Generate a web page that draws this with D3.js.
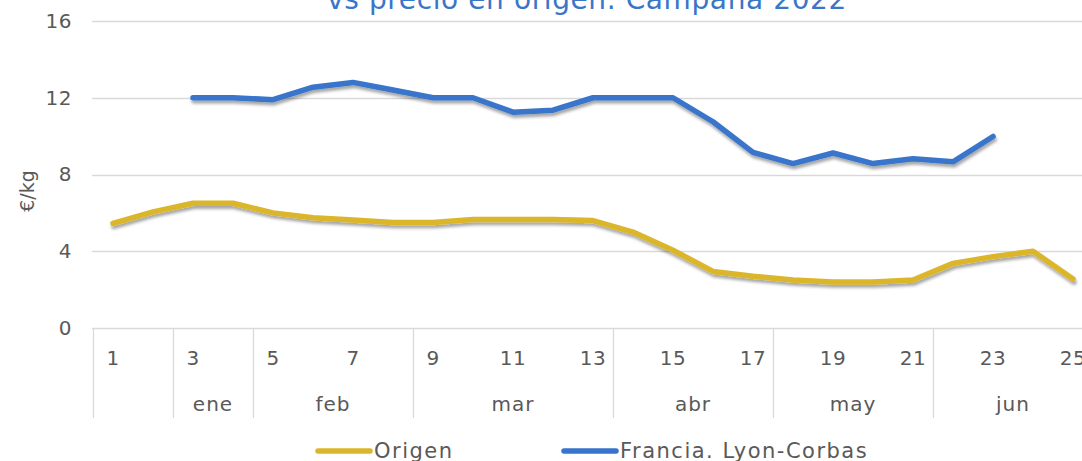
<!DOCTYPE html>
<html>
<head>
<meta charset="utf-8">
<script src="https://cdn.jsdelivr.net/npm/d3@7"></script>
<style>
  body { margin: 0; background: #fff; }
  text { font-family: "DejaVu Sans", sans-serif; fill: #595959; }
</style>
</head>
<body>
<div id="chart"></div>
<script>
// Data
var weeks = d3.range(1, 26);
var origen = [5.45, 6.05, 6.5, 6.5, 6.0, 5.75, 5.63, 5.5, 5.5, 5.65, 5.65, 5.65, 5.6,
  5.0, 4.05, 2.95, 2.7, 2.5, 2.4, 2.4, 2.5, 3.37, 3.72, 4.0, 2.55];
var franciaWeeks = d3.range(3, 24);
var francia = [12.0, 12.0, 11.9, 12.55, 12.8, 12.4, 12.0, 12.0, 11.25, 11.35, 12.0,
  12.0, 12.0, 10.75, 9.15, 8.57, 9.12, 8.57, 8.82, 8.66, 9.98];
var monthLabels = ["", "ene", "feb", "mar", "abr", "may", "jun"];
var monthStart = [1, 3, 5, 9, 14, 18, 22];
var yTicks = [0, 4, 8, 12, 16];
var seriesNames = ["Origen", "Francia. Lyon-Corbas"];
var seriesColors = ["#dbb62a", "#3874cb"];

// Chart setup
var W = 1082, H = 461;
var svg = d3.select('#chart').append('svg')
  .attr('width', W).attr('height', H);

var defs = svg.append('defs');
defs.append('filter').attr('id', 'shadow')
  .attr('x', '-5%').attr('y', '-20%').attr('width', '110%').attr('height', '160%')
  .append('feDropShadow')
  .attr('dx', 1).attr('dy', 3).attr('stdDeviation', 1.8)
  .attr('flood-color', '#000').attr('flood-opacity', 0.35);

var xScale = d3.scaleBand().domain(weeks).range([93, 1093]).padding(0);
var yScale = d3.scaleLinear().domain([0, 16]).range([328, 21]);
var cx = function (w) { return xScale(w) + xScale.bandwidth() / 2; };

// Title (cut off at the top)
svg.append('text')
  .attr('x', 587).attr('y', 9)
  .attr('text-anchor', 'middle')
  .style('font-size', '28px')
  .style('letter-spacing', '0.6px')
  .style('fill', '#3a76c8')
  .text('vs precio en origen. Campaña 2022');

// Gridlines
svg.append('g').selectAll('line')
  .data(yTicks)
  .enter().append('line')
  .attr('x1', 92).attr('x2', W)
  .attr('y1', function (d) { return Math.round(yScale(d)) + 0.5; })
  .attr('y2', function (d) { return Math.round(yScale(d)) + 0.5; })
  .attr('stroke', '#d9d9d9').attr('stroke-width', 1.3);

// Y axis labels
var yAxis = d3.axisLeft(yScale).tickValues(yTicks).tickSize(0).tickPadding(0);
var yG = svg.append('g').attr('transform', 'translate(72,0)').call(yAxis);
yG.select('.domain').remove();
yG.selectAll('text').style('font-size', '20px').style('fill', '#595959')
  .style('letter-spacing', '0.5px')
  .style('font-family', '"DejaVu Sans", sans-serif');

svg.append('text')
  .attr('transform', 'translate(34,' + 191 + ')rotate(-90)')
  .attr('text-anchor', 'middle')
  .style('font-size', '19px')
  .text('€/kg');

// X axis: week labels
var xAxis = d3.axisBottom(xScale)
  .tickValues(weeks.filter(function (w) { return w % 2 === 1; }))
  .tickSize(0).tickPadding(0);
var xG = svg.append('g').attr('transform', 'translate(0,365)').call(xAxis);
xG.select('.domain').remove();
xG.selectAll('text').attr('dy', 0).style('font-size', '20px').style('fill', '#595959')
  .style('letter-spacing', '0.5px')
  .style('font-family', '"DejaVu Sans", sans-serif');

// Month separators and labels
var seps = monthStart.map(function (w) { return xScale(w); });
svg.append('g').selectAll('line')
  .data(seps)
  .enter().append('line')
  .attr('x1', function (d) { return d + 0.5; })
  .attr('x2', function (d) { return d + 0.5; })
  .attr('y1', 328).attr('y2', 418)
  .attr('stroke', '#d9d9d9').attr('stroke-width', 1.3);

svg.append('g').selectAll('text')
  .data(monthLabels)
  .enter().append('text')
  .attr('x', function (d, i) {
    var a = xScale(monthStart[i]);
    var endW = i < monthStart.length - 1 ? monthStart[i + 1] : 26;
    var b = endW <= 25 ? xScale(endW) : xScale(25) + xScale.bandwidth();
    return (a + b) / 2;
  })
  .attr('y', 411)
  .attr('text-anchor', 'middle')
  .style('font-size', '20px')
  .style('letter-spacing', '1px')
  .text(function (d) { return d; });

// Lines
var line = d3.line()
  .x(function (d) { return cx(d[0]); })
  .y(function (d) { return yScale(d[1]); });

var plot = svg.append('g').attr('filter', 'url(#shadow)');
plot.append('path')
  .datum(d3.zip(weeks, origen))
  .attr('d', line)
  .attr('fill', 'none')
  .attr('stroke', seriesColors[0])
  .attr('stroke-width', 5.5)
  .attr('stroke-linejoin', 'round')
  .attr('stroke-linecap', 'round');
plot.append('path')
  .datum(d3.zip(franciaWeeks, francia))
  .attr('d', line)
  .attr('fill', 'none')
  .attr('stroke', seriesColors[1])
  .attr('stroke-width', 5.5)
  .attr('stroke-linejoin', 'round')
  .attr('stroke-linecap', 'round');

// Legend
var legendX = [318, 564];
var legend = svg.append('g').selectAll('g')
  .data(seriesNames)
  .enter().append('g')
  .attr('transform', function (d, i) { return 'translate(' + legendX[i] + ',451)'; });
legend.append('line')
  .attr('x1', 0).attr('x2', 52).attr('y1', 0).attr('y2', 0)
  .attr('stroke', function (d, i) { return seriesColors[i]; })
  .attr('stroke-width', 5.5)
  .attr('stroke-linecap', 'round');
legend.append('text')
  .attr('x', 56).attr('y', 0)
  .attr('dy', '0.35em')
  .style('font-size', '21px')
  .style('letter-spacing', '1.5px')
  .text(function (d) { return d; });
</script>
</body>
</html>
